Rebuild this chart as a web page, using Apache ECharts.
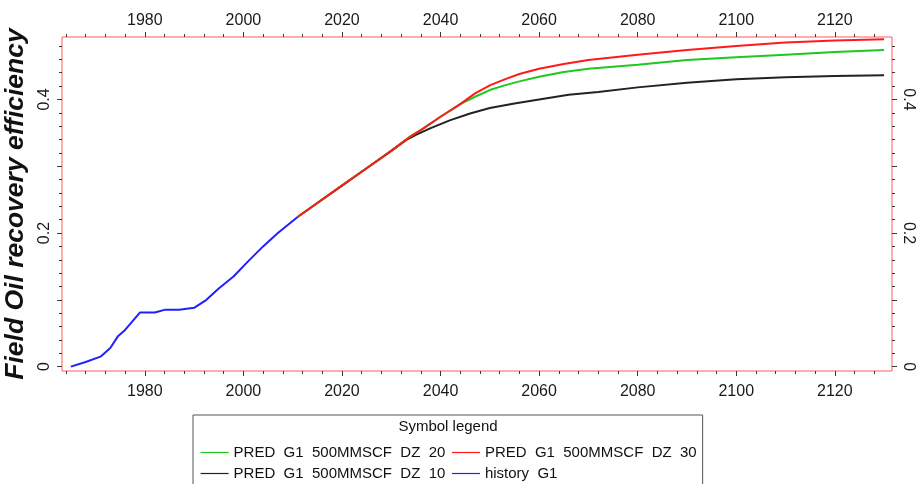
<!DOCTYPE html>
<html>
<head>
<meta charset="utf-8">
<script src="https://cdn.jsdelivr.net/npm/echarts@6/dist/echarts.min.js"></script>
<style>
  html, body { margin: 0; padding: 0; background: #ffffff; }
  #chart { width: 923px; height: 484px; }
</style>
</head>
<body>
<div id="chart"></div>
<script>
// Field oil recovery efficiency: history match and three prediction cases
const historyG1 = [
  [1965, 0.000], [1968, 0.007], [1971, 0.015], [1973, 0.028], [1974.5, 0.045],
  [1976, 0.055], [1979, 0.081], [1982, 0.081], [1984, 0.085], [1987, 0.085],
  [1990, 0.088], [1992.5, 0.100], [1995, 0.117], [1998, 0.135], [2001, 0.158],
  [2004, 0.180], [2007, 0.200], [2010, 0.218], [2011, 0.224]
];

const predDZ10 = [
  [2011, 0.224], [2015, 0.245], [2020, 0.271], [2025, 0.297], [2030, 0.323],
  [2033, 0.339], [2035, 0.347], [2038, 0.357], [2042, 0.369], [2046, 0.379],
  [2050, 0.387], [2055, 0.394], [2060, 0.400], [2066, 0.407], [2072, 0.411],
  [2080, 0.418], [2090, 0.425], [2100, 0.430], [2110, 0.433], [2120, 0.435],
  [2130, 0.436]
];

const predDZ20 = [
  [2011, 0.224], [2015, 0.245], [2020, 0.271], [2025, 0.297], [2030, 0.323],
  [2034, 0.345], [2036, 0.354], [2040, 0.374], [2044, 0.393], [2047, 0.404],
  [2050, 0.414], [2053, 0.421], [2056, 0.427], [2060, 0.434], [2065, 0.441],
  [2070, 0.446], [2080, 0.452], [2090, 0.459], [2100, 0.463], [2110, 0.467],
  [2120, 0.471], [2130, 0.474]
];

const predDZ30 = [
  [2011, 0.224], [2015, 0.245], [2020, 0.271], [2025, 0.297], [2030, 0.323],
  [2034, 0.345], [2036, 0.354], [2040, 0.374], [2044, 0.393], [2047, 0.409],
  [2050, 0.421], [2053, 0.430], [2056, 0.438], [2060, 0.446], [2065, 0.453],
  [2070, 0.459], [2080, 0.467], [2090, 0.474], [2100, 0.480], [2110, 0.485],
  [2120, 0.488], [2130, 0.490]
];

const seriesNames = {
  dz20: 'PRED  G1  500MMSCF  DZ  20',
  dz30: 'PRED  G1  500MMSCF  DZ  30',
  dz10: 'PRED  G1  500MMSCF  DZ  10',
  hist: 'history  G1'
};

// Axis ranges and tick positions
const X_MIN = 1963.2, X_MAX = 2131.6;
const Y_MIN = -0.0065, Y_MAX = 0.4934;
const yearLabels = [1980, 2000, 2020, 2040, 2060, 2080, 2100, 2120];
const yearMinor = [];
for (let y = 1964; y <= 2128; y += 4) yearMinor.push(y);
const valueLabels = [0, 0.2, 0.4];
const valueMajor = [0, 0.1, 0.2, 0.3, 0.4];
const valueMinor = [];
for (let i = 0; i <= 24; i++) valueMinor.push(+(i * 0.02).toFixed(2));

const FONT = 'Liberation Sans, Arial, sans-serif';
const TICK_COLOR = '#3a3a3a';
const FRAME_COLOR = '#ff5a5a';

function xAxisDef(position, ticks, len, labels, margin) {
  return {
    type: 'value', gridIndex: 0, position: position,
    min: X_MIN, max: X_MAX,
    axisLine: { show: false, onZero: false },
    splitLine: { show: false },
    axisTick: { show: true, inside: false, length: len, customValues: ticks,
                lineStyle: { color: TICK_COLOR, width: 1 } },
    axisLabel: labels ? { show: true, customValues: labels, margin: margin,
                formatter: function (v) { return String(Math.round(v)); },
                fontSize: 16, color: '#1a1a1a', fontFamily: FONT }
              : { show: false }
  };
}

function yAxisDef(position, ticks, len, labels, rotate, margin, name) {
  const ax = {
    type: 'value', gridIndex: 0, position: position,
    min: Y_MIN, max: Y_MAX,
    axisLine: { show: false, onZero: false },
    splitLine: { show: false },
    axisTick: { show: true, inside: false, length: len, customValues: ticks,
                lineStyle: { color: TICK_COLOR, width: 1 } },
    axisLabel: labels ? { show: true, customValues: labels, rotate: rotate, margin: margin,
                formatter: function (v) { return String(+v.toFixed(2)); },
                fontSize: 16, color: '#1a1a1a', fontFamily: FONT }
              : { show: false }
  };
  if (name) {
    ax.name = name;
    ax.nameLocation = 'middle';
    ax.nameRotate = 90;
    ax.nameGap = 21;
    ax.nameTextStyle = { fontSize: 26.5, fontWeight: 'bold', fontStyle: 'italic',
                         color: '#111', fontFamily: FONT };
  }
  return ax;
}

function lineSeries(name, data, color) {
  return {
    type: 'line', name: name, data: data,
    xAxisIndex: 0, yAxisIndex: 0,
    symbol: 'none', showSymbol: false, smooth: false,
    lineStyle: { color: color, width: 2 },
    itemStyle: { color: color },
    emphasis: { disabled: true },
    z: 3
  };
}

const chart = echarts.init(document.getElementById('chart'), null, { renderer: 'canvas' });

chart.setOption({
  animation: false,
  backgroundColor: '#ffffff',
  title: {
    text: 'Symbol legend',
    left: 448, top: 419, textAlign: 'center', padding: 0,
    textStyle: { fontSize: 15, fontWeight: 'normal', color: '#111', fontFamily: FONT }
  },
  grid: [{
    left: 62, right: 31, top: 37, bottom: 113,
    outerBoundsMode: 'none', containLabel: false,
    show: true, borderColor: FRAME_COLOR, borderWidth: 1, backgroundColor: 'transparent'
  }],
  xAxis: [
    xAxisDef('bottom', yearLabels, 5, yearLabels, 13),
    xAxisDef('bottom', yearMinor, 3, null, 0),
    xAxisDef('top', yearLabels, 5, yearLabels, 8),
    xAxisDef('top', yearMinor, 3, null, 0)
  ],
  yAxis: [
    yAxisDef('left', valueMajor, 5, valueLabels, 90, 9, 'Field Oil recovery efficiency'),
    yAxisDef('left', valueMinor, 3, null, 0, 0, null),
    yAxisDef('right', valueMajor, 5, valueLabels, -90, 8, null),
    yAxisDef('right', valueMinor, 3, null, 0, 0, null)
  ],
  legend: {
    data: [seriesNames.dz20, seriesNames.dz30, seriesNames.dz10, seriesNames.hist],
    orient: 'horizontal',
    left: 193, top: 415, width: 500,
    padding: [30, 6, 14, 7],
    itemGap: 6, itemWidth: 28, itemHeight: 12,
    borderColor: '#555', borderWidth: 1, borderRadius: 0,
    backgroundColor: '#ffffff',
    lineStyle: { width: 1.2 },
    itemStyle: { opacity: 0 },
    selectedMode: false,
    textStyle: { fontSize: 15, color: '#111', fontFamily: FONT, lineHeight: 12 }
  },
  series: [
    lineSeries(seriesNames.dz10, predDZ10, '#222222'),
    lineSeries(seriesNames.dz20, predDZ20, '#1ec81e'),
    lineSeries(seriesNames.dz30, predDZ30, '#ff1a1a'),
    lineSeries(seriesNames.hist, historyG1, '#2020ff')
  ]
});
</script>
</body>
</html>
